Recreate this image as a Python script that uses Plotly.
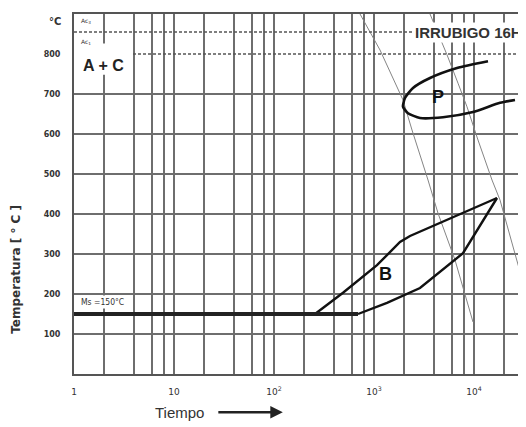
import plotly.graph_objects as go

# ---- data (time in s, temperature in °C) ----
cool1_t = [10**2.86, 10**3.06, 10**3.29, 10**3.38, 10**3.54, 10**3.64, 10**3.81, 10**3.99]
cool1_T = [900, 810, 685, 610, 485, 402, 285, 130]
cool2_t = [10**3.56, 10**3.73, 10**3.84, 10**3.93, 10**4.04, 10**4.18, 10**4.26, 10**4.52, 10**4.75]
cool2_T = [900, 798, 727, 668, 585, 485, 435, 202, 30]

p_t = [10**4.14, 10**3.83, 10**3.56, 10**3.39, 10**3.31, 10**3.29, 10**3.34, 10**3.46,
       10**3.69, 10**3.99, 10**4.26, 10**4.41]
p_T = [782, 765, 740, 715, 690, 668, 652, 640, 642, 655, 678, 685]

b_up_t = [10**2.41, 10**2.69, 10**3.03, 10**3.26, 10**3.36, 10**3.66, 10**4.23]
b_up_T = [150, 203, 272, 330, 345, 378, 440]
b_lo_t = [10**2.84, 10**3.13, 10**3.46, 10**3.89, 10**4.23]
b_lo_T = [150, 178, 215, 302, 440]

ms_t = [1, 10**2.84]
ms_T = [150, 150]

ac3_T = 855
ac1_T = 800
ac1_start = 10**0.59
t_end = 10**4.6

y_ticks = [100, 200, 300, 400, 500, 600, 700, 800]
y_grid = [100, 200, 300, 400, 500, 600, 700]
x_grid = []
for d in range(0, 5):
    for m in [1, 2, 4, 6, 8]:
        x_grid.append(m * 10**d)
x_labels = {1: "1", 10: "10", 100: "10<sup>2</sup>", 1000: "10<sup>3</sup>", 10000: "10<sup>4</sup>"}
x_text = [x_labels.get(v, " ") for v in x_grid]

fig = go.Figure()

thin = dict(color="#858585", width=1.0)
fig.add_trace(go.Scatter(x=cool1_t, y=cool1_T, mode="lines", line=thin, hoverinfo="skip"))
fig.add_trace(go.Scatter(x=cool2_t, y=cool2_T, mode="lines", line=thin, hoverinfo="skip"))

dash = dict(color="#555555", width=1.5, dash="3px,2px")
fig.add_trace(go.Scatter(x=[1, t_end], y=[ac3_T, ac3_T], mode="lines", line=dash, hoverinfo="skip"))
fig.add_trace(go.Scatter(x=[ac1_start, t_end], y=[ac1_T, ac1_T], mode="lines", line=dash, hoverinfo="skip"))

thick = dict(color="#111111", width=2.6, shape="spline", smoothing=0.6)
fig.add_trace(go.Scatter(x=p_t, y=p_T, mode="lines", line=thick, hoverinfo="skip"))
fig.add_trace(go.Scatter(x=b_up_t, y=b_up_T, mode="lines", line=dict(color="#111111", width=2.4), hoverinfo="skip"))
fig.add_trace(go.Scatter(x=b_lo_t, y=b_lo_T, mode="lines", line=dict(color="#111111", width=2.4), hoverinfo="skip"))
fig.add_trace(go.Scatter(x=ms_t, y=ms_T, mode="lines", line=dict(color="#222222", width=4), hoverinfo="skip"))

# white patch behind "A + C"
fig.add_shape(type="rect", xref="x", yref="y", x0=10**0.03, x1=10**0.57, y0=748, y1=826,
              fillcolor="white", line=dict(width=0), layer="between")

ann = []
ann.append(dict(x=0.29, y=772, text="<b>A + C</b>", showarrow=False,
                font=dict(family="Liberation Sans", size=16, color="#222")))
ann.append(dict(x=0.12, y=882, text="Ac<sub>3</sub>", showarrow=False,
                font=dict(family="DejaVu Sans", size=6, color="#333")))
ann.append(dict(x=0.12, y=830, text="Ac<sub>1</sub>", showarrow=False,
                font=dict(family="DejaVu Sans", size=6, color="#333")))
ann.append(dict(x=3.385, y=853, text="<b>IRRUBIGO 16H</b>", showarrow=False, xanchor="left",
                bgcolor="white", borderpad=1,
                font=dict(family="Liberation Sans", size=15, color="#333")))
ann.append(dict(x=3.64, y=692, text="<b>P</b>", showarrow=False,
                font=dict(family="Liberation Sans", size=18, color="#111")))
ann.append(dict(x=3.11, y=250, text="<b>B</b>", showarrow=False,
                font=dict(family="Liberation Sans", size=18, color="#111")))
ann.append(dict(x=0.05, y=180, text="Ms =150°C", showarrow=False, xanchor="left",
                bgcolor="white", borderpad=1,
                font=dict(family="DejaVu Sans Condensed, DejaVu Sans", size=8.5, color="#333")))
for a in ann:
    a.update(xref="x", yref="y")
    fig.add_annotation(**a)

fig.add_annotation(xref="paper", yref="paper", x=-0.041, y=0.978, text="<b>°C</b>", showarrow=False,
                   xanchor="center", yanchor="middle",
                   font=dict(family="DejaVu Sans", size=10, color="#333"))
fig.add_annotation(xref="paper", yref="paper", x=-0.128, y=0.29, text="<b>Temperatura [ ° C ]</b>",
                   showarrow=False, textangle=-90, xanchor="center", yanchor="middle",
                   font=dict(family="DejaVu Sans", size=12, color="#333"))
fig.add_annotation(xref="paper", yref="paper", x=0.230, y=-0.106, text="Tiempo", showarrow=False,
                   xanchor="center", yanchor="middle",
                   font=dict(family="Liberation Sans", size=15, color="#333"))
fig.add_annotation(xref="paper", yref="paper", x=0.454, y=-0.106, ax=-66, ay=0, text="",
                   showarrow=True, arrowhead=2, arrowsize=1, arrowwidth=2.5, arrowcolor="#222")

fig.update_xaxes(type="log", range=[0, 4.6], tickvals=x_grid, ticktext=x_text, tickangle=0,
                 showgrid=True, gridcolor="#6e6e6e", gridwidth=1.6,
                 showline=True, linecolor="#555", linewidth=2, mirror=True,
                 ticks="", ticklabelstandoff=8,
                 tickfont=dict(family="DejaVu Sans", size=9, color="#333"), zeroline=False)
fig.update_yaxes(range=[0, 900], tickvals=y_ticks, showgrid=False,
                 minor=dict(tickvals=y_grid, showgrid=True, gridcolor="#6e6e6e", gridwidth=1.6, ticks=""),
                 showline=True, linecolor="#555", linewidth=2,
                 ticks="", ticklabelstandoff=10,
                 tickfont=dict(family="DejaVu Sans", size=8, color="#333", weight="bold"), zeroline=False)

fig.update_layout(width=526, height=427, margin=dict(l=66, r=0, t=6, b=61),
                  paper_bgcolor="white", plot_bgcolor="white", showlegend=False)

fig.write_html("out.html")
